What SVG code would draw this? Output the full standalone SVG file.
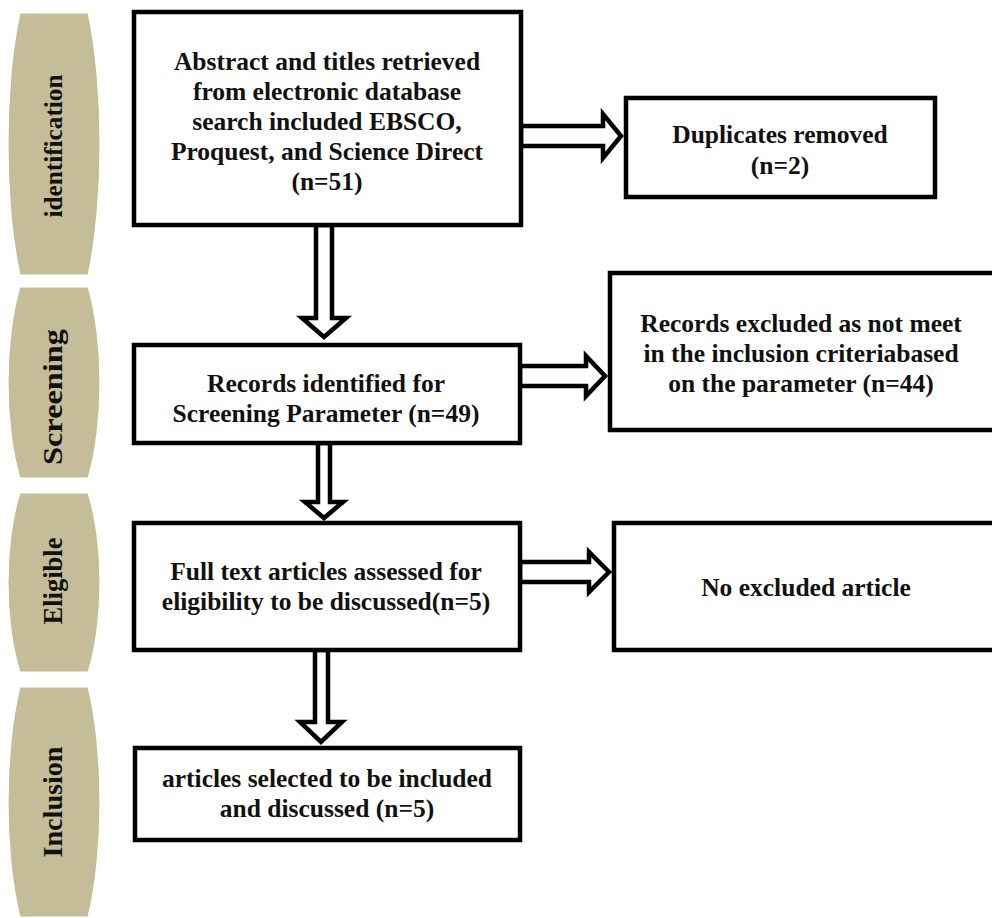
<svg xmlns="http://www.w3.org/2000/svg" width="992" height="918" viewBox="0 0 992 918">
<style>
.pill{fill:#C4BD97;stroke:#ffffff;stroke-width:1}
.box{fill:#ffffff;stroke:#000000;stroke-width:4.5}
.arr{fill:#ffffff;stroke:#000000;stroke-width:4.5;stroke-linejoin:miter}
.t{font-family:"Liberation Serif","Times New Roman",serif;font-weight:bold;font-size:25.5px;fill:#111111;text-anchor:middle}
.s{font-family:"Liberation Serif","Times New Roman",serif;font-weight:bold;font-size:25px;fill:#111111;text-anchor:middle}
.s2{font-size:27px}
</style>
<rect width="992" height="918" fill="#ffffff"/>
<g id="stage-identification">
<path class="pill" d="M20,13 L88,13 A46 194.5 0 0 1 88,275 L20,275 A46 194.5 0 0 1 20,13 Z"/>
<text class="s" transform="translate(62,146) rotate(-90)" textLength="143" lengthAdjust="spacingAndGlyphs">identification</text>
</g>
<g id="stage-screening">
<path class="pill" d="M20,287 L88,287 A46 142 0 0 1 88,478 L20,478 A46 142 0 0 1 20,287 Z"/>
<text class="s s2" transform="translate(62,397) rotate(-90)" textLength="136" lengthAdjust="spacingAndGlyphs">Screening</text>
</g>
<g id="stage-eligible">
<path class="pill" d="M20,493 L88,493 A46 133 0 0 1 88,672 L20,672 A46 133 0 0 1 20,493 Z"/>
<text class="s s2" transform="translate(62,581) rotate(-90)" textLength="87" lengthAdjust="spacingAndGlyphs">Eligible</text>
</g>
<g id="stage-inclusion">
<path class="pill" d="M20,687 L88,687 A46 171 0 0 1 88,917 L20,917 A46 171 0 0 1 20,687 Z"/>
<text class="s s2" transform="translate(62,802) rotate(-90)" textLength="111" lengthAdjust="spacingAndGlyphs">Inclusion</text>
</g>

<g id="connectors">
<polygon class="arr" points="521,126 603,126 603,114 621,136 603,158 603,146 521,146"/>
<polygon class="arr" points="520,366 586,366 586,356 605,376 586,396 586,386 520,386"/>
<polygon class="arr" points="520,562 589,562 589,552 609,572 589,592 589,582 520,582"/>
<polygon class="arr" points="316,225 332,225 332,318 346,318 324,337 302,318 316,318"/>
<polygon class="arr" points="318,443 330,443 330,502 343,502 324,518 305,502 318,502"/>
<polygon class="arr" points="315,650 328,650 328,722 342,722 321,742 300,722 315,722"/>
</g>

<g id="box-abstract">
<rect class="box" x="134" y="12" width="387" height="213"/>
<text class="t" x="327" y="70">Abstract and titles retrieved</text>
<text class="t" x="327" y="100">from electronic database</text>
<text class="t" x="327" y="130">search included EBSCO,</text>
<text class="t" x="327" y="160">Proquest, and Science Direct</text>
<text class="t" x="327" y="190">(n=51)</text>
</g>
<g id="box-duplicates">
<rect class="box" x="626" y="98" width="309" height="99"/>
<text class="t" x="780" y="143">Duplicates removed</text>
<text class="t" x="780" y="174">(n=2)</text>
</g>
<g id="box-records">
<rect class="box" x="134" y="345" width="386" height="98"/>
<text class="t" x="326" y="392">Records identified for</text>
<text class="t" x="326" y="422">Screening Parameter (n=49)</text>
</g>
<g id="box-excluded">
<rect class="box" x="610" y="273" width="390" height="157"/>
<text class="t" x="801" y="332">Records excluded as not meet</text>
<text class="t" x="801" y="362">in the inclusion criteriabased</text>
<text class="t" x="801" y="392">on the parameter (n=44)</text>
</g>
<g id="box-fulltext">
<rect class="box" x="134" y="523" width="386" height="127"/>
<text class="t" x="326" y="580">Full text articles assessed for</text>
<text class="t" x="326" y="610">eligibility to be discussed(n=5)</text>
</g>
<g id="box-noexcluded">
<rect class="box" x="614" y="523" width="390" height="127"/>
<text class="t" x="806" y="596">No excluded article</text>
</g>
<g id="box-included">
<rect class="box" x="135" y="748" width="385" height="92"/>
<text class="t" x="327" y="787">articles selected to be included</text>
<text class="t" x="327" y="817">and discussed (n=5)</text>
</g>
</svg>
